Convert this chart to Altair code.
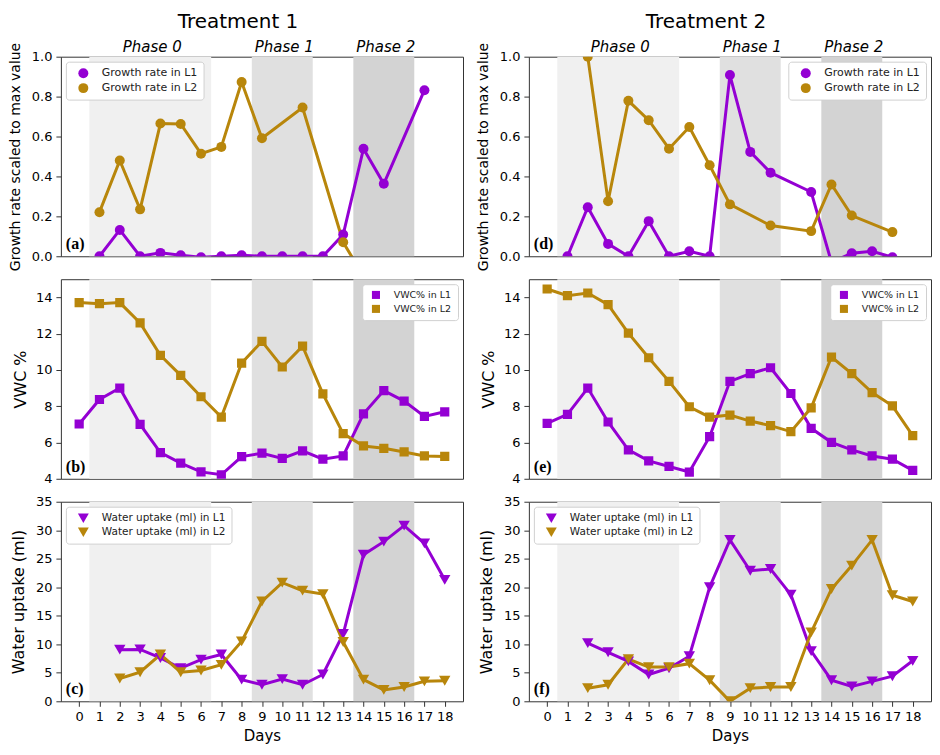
import altair as alt
import pandas as pd

# ---------------- data ----------------
day_ticks = list(range(19))

phase_names = ["Phase 0", "Phase 1", "Phase 2"]
phase_start = [0.5, 8.5, 13.5]
phase_end = [6.5, 11.5, 16.5]
phase_center = [3.5, 10.0, 15.0]
phase_fill = ["#f0f0f0", "#e0e0e0", "#d3d3d3"]

# Treatment 1 - growth rate
t1_gr_l1_days = [1, 2, 3, 4, 5, 6, 7, 8, 9, 10, 11, 12, 13, 14, 15, 17]
t1_gr_l1 = [0.0, 0.132, 0.0, 0.017, 0.005, -0.005, 0.0, 0.005, 0.0, 0.0, 0.0, 0.0, 0.109, 0.539, 0.363, 0.832]
t1_gr_l2_days = [1, 2, 3, 4, 5, 6, 7, 8, 9, 11, 13, 14]
t1_gr_l2 = [0.221, 0.48, 0.235, 0.665, 0.663, 0.514, 0.548, 0.873, 0.591, 0.745, 0.07, -0.1]

# Treatment 2 - growth rate
t2_gr_l1_days = [1, 2, 3, 4, 5, 6, 7, 8, 9, 10, 11, 13, 14, 15, 16, 17]
t2_gr_l1 = [0.0, 0.246, 0.062, 0.0, 0.176, 0.0, 0.025, 0.0, 0.908, 0.523, 0.419, 0.322, -0.03, 0.015, 0.025, -0.005]
t2_gr_l2_days = [2, 3, 4, 5, 6, 7, 8, 9, 11, 13, 14, 15, 17]
t2_gr_l2 = [1.0, 0.276, 0.779, 0.682, 0.539, 0.648, 0.456, 0.26, 0.154, 0.126, 0.36, 0.204, 0.121]

# Treatment 1 - VWC %
t1_vwc_days = list(range(19))
t1_vwc_l1 = [7.02, 8.37, 9.0, 7.0, 5.44, 4.86, 4.38, 4.22, 5.22, 5.41, 5.12, 5.54, 5.08, 5.26, 7.58, 8.86, 8.28, 7.44, 7.69]
t1_vwc_l2 = [13.71, 13.65, 13.71, 12.59, 10.8, 9.7, 8.52, 7.4, 10.38, 11.57, 10.16, 11.31, 8.68, 6.49, 5.81, 5.68, 5.48, 5.26, 5.23]

# Treatment 2 - VWC %
t2_vwc_days = list(range(19))
t2_vwc_l1 = [7.05, 7.55, 9.0, 7.13, 5.59, 4.99, 4.68, 4.37, 6.32, 9.37, 9.8, 10.12, 8.7, 6.78, 6.01, 5.59, 5.26, 5.08, 4.46]
t2_vwc_l2 = [14.46, 14.09, 14.24, 13.6, 12.03, 10.67, 9.37, 7.97, 7.4, 7.51, 7.18, 6.93, 6.6, 7.91, 10.71, 9.8, 8.75, 8.02, 6.38]

# Treatment 1 - water uptake (ml)
t1_wu_days = list(range(2, 19))
t1_wu_l1 = [9.05, 9.1, 7.6, 5.8, 7.3, 8.2, 3.8, 2.9, 3.9, 2.9, 4.7, 11.8, 25.7, 28.0, 30.8, 27.7, 21.3]
t1_wu_l2 = [4.0, 5.1, 8.2, 5.1, 5.4, 6.4, 10.5, 17.5, 20.8, 19.4, 18.8, 10.4, 3.8, 2.0, 2.5, 3.5, 3.6]

# Treatment 2 - water uptake (ml)
t2_wu_days = list(range(2, 19))
t2_wu_l1 = [10.2, 8.6, 7.0, 4.7, 5.8, 7.9, 20.0, 28.3, 22.9, 23.2, 18.7, 8.8, 3.7, 2.6, 3.5, 4.4, 7.1]
t2_wu_l2 = [2.3, 2.9, 7.4, 6.0, 6.0, 6.6, 3.7, 0.0, 2.3, 2.5, 2.5, 12.1, 19.7, 23.8, 28.3, 18.6, 17.5]

PURPLE = "#9400D3"
GOLD = "#B8860B"
W, H = 403, 200
FONT = "DejaVu Sans"

phase_df = pd.DataFrame({"name": phase_names, "start": phase_start, "end": phase_end,
                         "center": phase_center, "fill": phase_fill})

xscale = alt.Scale(domain=[-0.9, 18.9], nice=False, zero=False)


def series_df(d1, v1, d2, v2, n1, n2):
    a = pd.DataFrame({"day": d1, "value": v1, "series": n1, "hex": PURPLE})
    b = pd.DataFrame({"day": d2, "value": v2, "series": n2, "hex": GOLD})
    return pd.concat([a, b], ignore_index=True)


def panel(df, names, shape, msize, ydom, yvals, yfmt, ytitle, ytitle_size, ytitle_x,
          letter, lorient, lfont, lsym, lsymoff, top=False, bottom=False, title=None, title_dx=0):
    base = alt.Chart(df)
    if bottom:
        xaxis = alt.Axis(values=day_ticks, title="Days", titleFontSize=15, titleFont=FONT,
                         titleFontWeight="normal", labelFontSize=13, labelFont=FONT,
                         tickSize=5, labelPadding=4, titlePadding=5, grid=False,
                         labelOverlap=False, domain=False, labelFlush=False)
    else:
        xaxis = None
    yscale = alt.Scale(domain=ydom, nice=False, zero=False)
    yaxis = alt.Axis(values=yvals, format=yfmt, title=ytitle, titleFontSize=ytitle_size,
                     titleFont=FONT, titleFontWeight="normal", labelFontSize=13, labelFont=FONT,
                     tickSize=5, labelPadding=4, grid=False, labelOverlap=False, domain=False,
                     titleX=ytitle_x, titleBaseline="middle", labelFlush=False)

    shade = alt.Chart(phase_df).mark_rect().encode(
        x=alt.X("start:Q", scale=xscale, axis=xaxis),
        x2="end:Q",
        y=alt.value(0),
        y2=alt.value(H),
        fill=alt.Fill("fill:N", scale=None),
    )
    line = base.mark_line(strokeWidth=3, clip=True).encode(
        x=alt.X("day:Q", scale=xscale, axis=xaxis),
        y=alt.Y("value:Q", scale=yscale, axis=yaxis),
        stroke=alt.Stroke("hex:N", scale=None),
        detail="series:N",
    )
    pts = base.mark_point(filled=True, opacity=1, shape=shape, size=msize, clip=True).encode(
        x=alt.X("day:Q", scale=xscale, axis=xaxis),
        y=alt.Y("value:Q", scale=yscale, axis=yaxis),
        color=alt.Color("series:N", scale=alt.Scale(domain=names, range=[PURPLE, GOLD]),
                        legend=alt.Legend(orient=lorient, title=None, symbolType=shape,
                                          symbolSize=lsym, labelFontSize=lfont, labelFont=FONT,
                                          fillColor="white", strokeColor="#d0d0d0",
                                          cornerRadius=3, padding=6, offset=5,
                                          symbolOffset=lsymoff, labelOffset=13, rowPadding=3,
                                          symbolStrokeWidth=0, symbolOpacity=1,
                                          labelColor="#222")),
    )
    lab = alt.Chart(pd.DataFrame({"t": [letter]})).mark_text(
        align="left", baseline="alphabetic", font="Liberation Serif", fontWeight="bold",
        fontSize=16, color="black").encode(text="t:N", x=alt.value(5), y=alt.value(H - 7))
    layers = [shade, line, pts, lab]
    if top:
        ph = alt.Chart(phase_df).mark_text(
            font=FONT, fontStyle="italic", fontSize=15, baseline="alphabetic", dx=2,
            color="black").encode(x=alt.X("center:Q", scale=xscale, axis=xaxis),
                                  y=alt.value(-5), text="name:N")
        layers.append(ph)
    ch = alt.layer(*layers).properties(width=W, height=H)
    if title:
        ch = ch.properties(title=alt.TitleParams(title, fontSize=20, font=FONT, fontWeight="normal",
                                                  anchor="middle", dx=title_dx, offset=8,
                                                  color="black"))
    return ch


gr_names = ["Growth rate in L1", "Growth rate in L2"]
vwc_names = ["VWC% in L1", "VWC% in L2"]
wu_names = ["Water uptake (ml) in L1", "Water uptake (ml) in L2"]

gr_ticks = [0.0, 0.2, 0.4, 0.6, 0.8, 1.0]
vwc_ticks = [4, 6, 8, 10, 12, 14]
wu_ticks = [0, 5, 10, 15, 20, 25, 30, 35]

pa = panel(series_df(t1_gr_l1_days, t1_gr_l1, t1_gr_l2_days, t1_gr_l2, *gr_names), gr_names,
           "circle", 100, [0, 1], gr_ticks, ".1f", "Growth rate scaled to max value", 14, -45,
           "(a)", "top-left", 11, 100, 6, top=True, title="Treatment 1", title_dx=-24)
pd_ = panel(series_df(t2_gr_l1_days, t2_gr_l1, t2_gr_l2_days, t2_gr_l2, *gr_names), gr_names,
            "circle", 100, [0, 1], gr_ticks, ".1f", "Growth rate scaled to max value", 14, -45,
            "(d)", "top-right", 11, 100, 6, top=True, title="Treatment 2", title_dx=-24)
pb = panel(series_df(t1_vwc_days, t1_vwc_l1, t1_vwc_days, t1_vwc_l2, *vwc_names), vwc_names,
           "square", 85, [4, 15], vwc_ticks, "d", "VWC %", 16, -40,
           "(b)", "top-right", 9.5, 65, 3)
pe = panel(series_df(t2_vwc_days, t2_vwc_l1, t2_vwc_days, t2_vwc_l2, *vwc_names), vwc_names,
           "square", 85, [4, 15], vwc_ticks, "d", "VWC %", 16, -40,
           "(e)", "top-right", 9.5, 65, 3)
pc = panel(series_df(t1_wu_days, t1_wu_l1, t1_wu_days, t1_wu_l2, *wu_names), wu_names,
           "triangle-down", 130, [0, 35], wu_ticks, "d", "Water uptake (ml)", 16, -42,
           "(c)", "top-left", 10.5, 120, 6, bottom=True)
pf = panel(series_df(t2_wu_days, t2_wu_l1, t2_wu_days, t2_wu_l2, *wu_names), wu_names,
           "triangle-down", 130, [0, 35], wu_ticks, "d", "Water uptake (ml)", 16, -42,
           "(f)", "top-left", 10.5, 120, 6, bottom=True)

chart = alt.concat(pa, pd_, pb, pe, pc, pf, columns=2,
                   spacing={"row": 23, "column": 66}, bounds="flush").resolve_scale(
    x="independent", y="independent", color="independent"
).properties(padding={"top": 2, "left": 0, "right": 0, "bottom": 0}).configure_view(
    stroke="#333", strokeWidth=1).configure_axis(
    tickColor="#333", labelColor="black", titleColor="black", labelOverlap=False
)

chart.save("out.html", embed_options={"renderer": "svg", "actions": False})
